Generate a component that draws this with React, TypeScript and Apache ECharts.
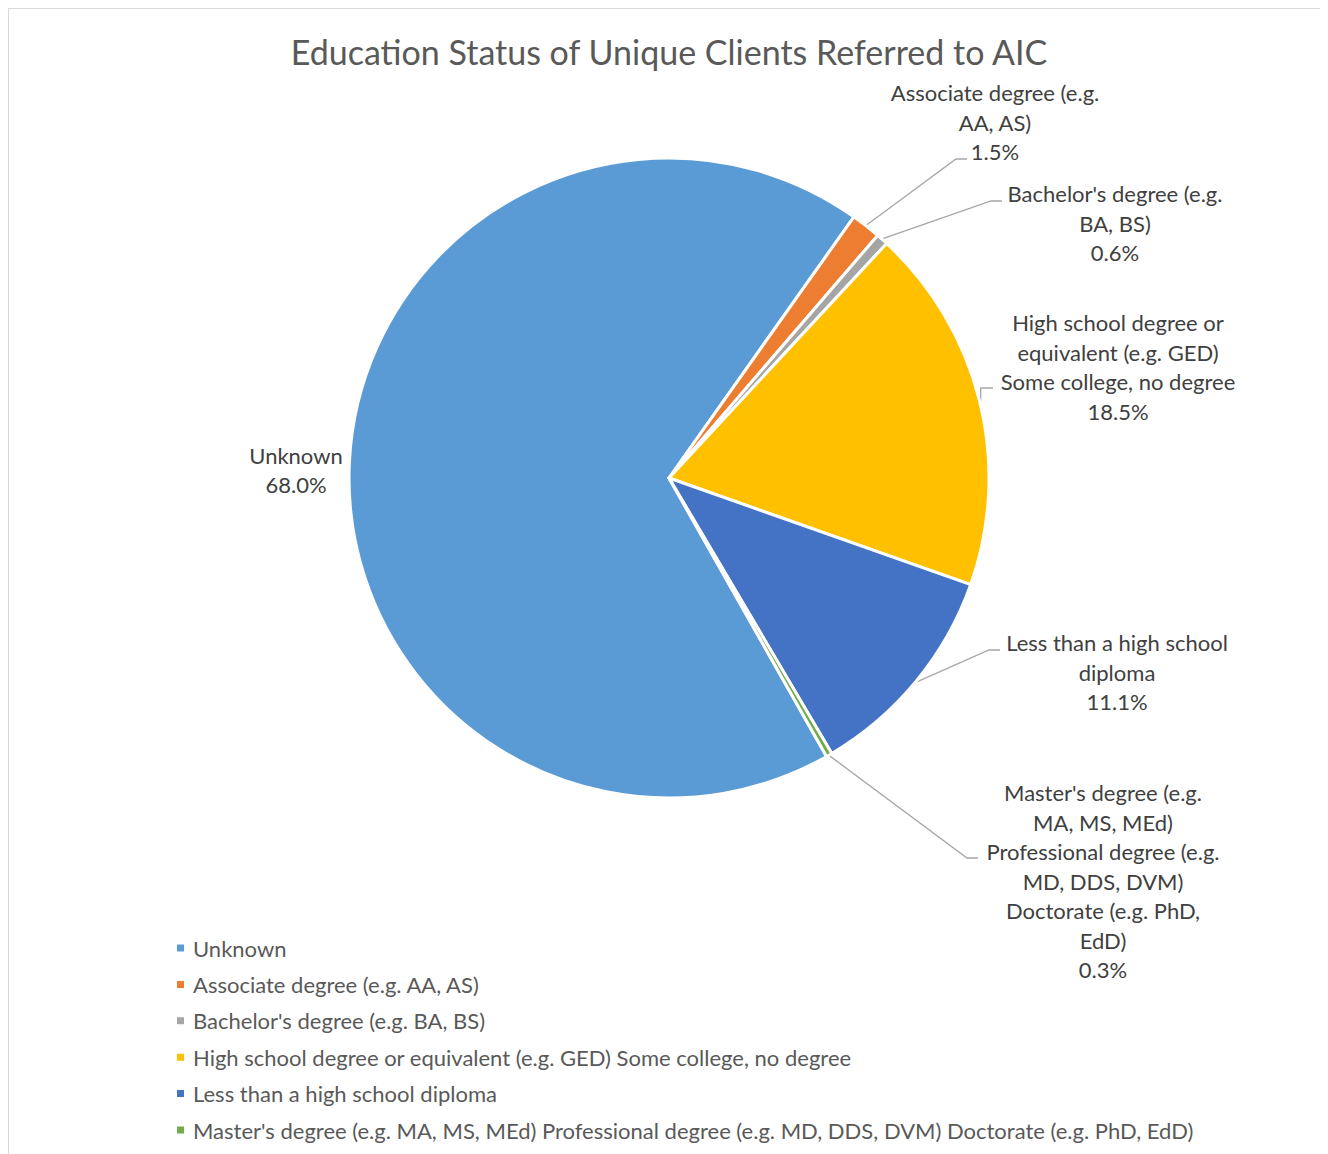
import React, { useEffect, useRef } from "react";
import * as echarts from "echarts";

const categories = [
  "Unknown",
  "Associate degree (e.g. AA, AS)",
  "Bachelor's degree (e.g. BA, BS)",
  "High school degree or equivalent (e.g. GED) Some college, no degree",
  "Less than a high school diploma",
  "Master's degree (e.g. MA, MS, MEd) Professional degree (e.g. MD, DDS, DVM) Doctorate (e.g. PhD, EdD)",
];
const values = [68.0, 1.5, 0.6, 18.5, 11.1, 0.3];
const labelLines = [
  "Unknown",
  "Associate degree (e.g.\nAA, AS)",
  "Bachelor's degree (e.g.\nBA, BS)",
  "High school degree or\nequivalent (e.g. GED)\nSome college, no degree",
  "Less than a high school\ndiploma",
  "Master's degree (e.g.\nMA, MS, MEd)\nProfessional degree (e.g.\nMD, DDS, DVM)\nDoctorate (e.g. PhD,\nEdD)",
];
const colors = ["#5B9BD5", "#ED7D31", "#A5A5A5", "#FFC000", "#4472C4", "#70AD47"];

// layout (chart pixel coords): label block centres and leader-line ends
const labelPos: [number, number][] = [
  [288, 462],
  [987, 114],
  [1107, 215],
  [1110, 359],
  [1109, 664],
  [1095, 873],
];
const leaderEnd: [number, number][] = [
  [0, 0],
  [959, 151],
  [994, 193],
  [985, 380],
  [992, 642],
  [970, 850],
];

const FONT = "Lato";
const CX = 661;
const CY = 470;
const R = 320;
const START_CW = 150.5; // clockwise degrees from 12 o'clock

export default function App() {
  const ref = useRef<HTMLDivElement>(null);
  useEffect(() => {
    document.documentElement.style.overflow = "hidden";
    const chart = echarts.init(ref.current!, null, { renderer: "svg" });
    const total = values.reduce((a, b) => a + b, 0);
    const anchor = (i: number): [number, number] => {
      let cum = 0;
      for (let k = 0; k < i; k++) cum += values[k];
      const theta = ((START_CW + (360 * (cum + values[i] / 2)) / total) * Math.PI) / 180;
      const r = R + 1;
      return [CX + r * Math.sin(theta), CY - r * Math.cos(theta)];
    };
    chart.setOption({
      animation: false,
      backgroundColor: "#ffffff",
      title: {
        text: "Education Status of Unique Clients Referred to AIC",
        left: 656,
        textAlign: "center",
        top: 21,
        textStyle: { fontFamily: FONT, fontSize: 34, fontWeight: "normal", color: "#595959" },
      },
      legend: {
        orient: "vertical",
        left: 167,
        top: 928,
        padding: 0,
        itemWidth: 9,
        itemHeight: 9,
        itemGap: 12.4,
        icon: "rect",
        data: categories,
        textStyle: { fontFamily: FONT, fontSize: 22, lineHeight: 24, color: "#595959", padding: [0, 0, 0, 3] },
      },
      graphic: [
        { type: "line", shape: { x1: 0, y1: 0, x2: 1320, y2: 0 }, style: { stroke: "#d9d9d9", lineWidth: 2 }, silent: true },
        { type: "line", shape: { x1: 0, y1: 0, x2: 0, y2: 1146 }, style: { stroke: "#d9d9d9", lineWidth: 2 }, silent: true },
      ],
      series: [
        {
          type: "pie",
          center: [CX, CY],
          radius: R,
          startAngle: 90 - START_CW,
          clockwise: true,
          itemStyle: { borderColor: "#ffffff", borderWidth: 3 },
          label: {
            show: true,
            position: "outside",
            fontFamily: FONT,
            fontSize: 22,
            lineHeight: 29.5,
            color: "#404040",
            align: "center",
            formatter: (p: any) => labelLines[p.dataIndex] + "\n" + values[p.dataIndex].toFixed(1) + "%",
          },
          labelLine: { show: true, lineStyle: { color: "#A6A6A6", width: 1.3 }, length: 20, length2: 12 },
          labelLayout: (p: any) => {
            const i = p.dataIndex;
            const pos = labelPos[i];
            const out: any = { x: pos[0], y: pos[1], align: "center", verticalAlign: "middle" };
            if (i > 0) {
              const a = anchor(i);
              const e = leaderEnd[i];
              out.labelLinePoints = [a, [e[0] - 11, e[1]], e];
              if (i === 3) out.labelLinePoints = [a, [a[0], e[1]], e];
            }
            return out;
          },
          emphasis: { disabled: true },
          data: categories.map((c, i) => ({
            name: c,
            value: values[i],
            itemStyle: { color: colors[i] },
            labelLine: i === 0 ? { show: false } : undefined,
          })),
        },
      ],
    });
    return () => chart.dispose();
  }, []);
  return <div ref={ref} style={{ width: 1330, height: 1160 }} />;
}
